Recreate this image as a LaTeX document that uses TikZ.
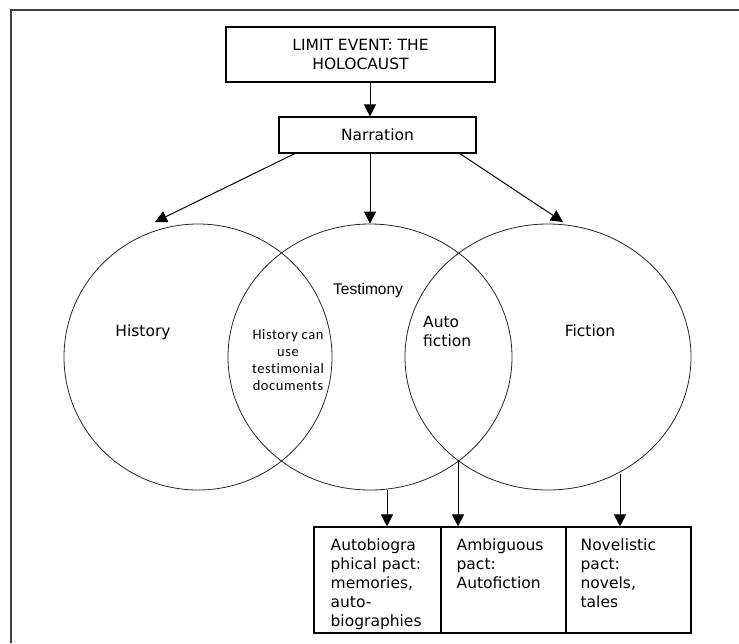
\documentclass[tikz,border=0pt]{standalone}
\usepackage{fontspec}
\setmainfont{DejaVu Sans}
\newfontfamily\arialfont{Liberation Sans}
\newfontfamily\calibrifont[LetterSpace=4,Ligatures={NoCommon}]{Carlito}
\usetikzlibrary{arrows.meta,shapes.geometric}

\begin{document}
\begin{tikzpicture}[x=1pt,y=-1pt]
  \tikzset{every node/.style={font=\fontsize{15.5}{18.5}\selectfont},
           box/.style={draw,line width=1.1pt,inner sep=0pt},
           ring/.style={draw,ellipse,line width=0.8pt,inner sep=0pt,black!85},
           pact/.style={anchor=north west,align=left,inner sep=0pt,font=\fontsize{15.5}{19}\selectfont},
           arr/.style={line width=1pt,-{Triangle[length=12pt,width=12pt]}}}
  \useasboundingbox (0,0) rectangle (739,643);
  \draw[line width=1.5pt,black!75] (11,643) -- (11,10) -- (739,10);
  % top of the chart
  \node[box,minimum width=269pt,minimum height=55pt,align=center] (event) at (360.5,54.5) {LIMIT EVENT: THE\\HOLOCAUST};
  \node[box,minimum width=197pt,minimum height=36pt] (narr) at (377.5,135) {Narration};
  % the three circles
  \node[ring,minimum width=268pt,minimum height=266pt] (hist) at (198,357) {};
  \node[ring,minimum width=284pt,minimum height=266pt] (testi) at (370,357) {};
  \node[ring,minimum width=286pt,minimum height=266pt] (fict) at (548,357) {};
  \node (histlbl) at (143,332) {History};
  \node[font=\arialfont\fontsize{15.5}{18}\selectfont] (testilbl) at (368,290) {Testimony};
  \node (fictlbl) at (590,331) {Fiction};
  \node[anchor=north west,align=left,inner sep=0pt] (autolbl) at (423,316) {Auto\\fiction};
  \node[align=center,inner sep=0pt,font=\calibrifont\fontsize{14.5}{16.8}\selectfont] (uselbl) at (288,360) {History can\\use\\testimonial\\documents};
  % pacts
  \node[box,minimum width=127pt,minimum height=106pt] (autob) at (377.5,580) {};
  \node[box,minimum width=125pt,minimum height=106pt] (ambig) at (503.5,580) {};
  \node[box,minimum width=125pt,minimum height=106pt] (novel) at (628.5,580) {};
  \node[pact] (autobtxt) at ([shift={(17,12)}]autob.north west) {Autobiogra\\phical pact:\\memories,\\auto-\\biographies};
  \node[pact] (ambigtxt) at ([shift={(16,12)}]ambig.north west) {Ambiguous\\pact:\\Autofiction};
  \node[pact] (noveltxt) at ([shift={(15,12)}]novel.north west) {Novelistic\\pact:\\novels,\\tales};
  % arrows
  \coordinate (nl) at (296,153);
  \coordinate (nr) at (459,153);
  \coordinate (hl) at (155,222);
  \coordinate (fr) at (563,222);
  \coordinate (c1) at (387,490);
  \coordinate (c2) at (458,460);
  \coordinate (c3) at (620,474);
  \draw[arr] (event.south -| testi.north) -- (narr.north -| testi.north);
  \draw[arr] (narr.south -| testi.north) -- (testi.north);
  \draw[arr] (nl) -- (hl);
  \draw[arr] (nr) -- (fr);
  \draw[arr] (c1) -- (c1 |- autob.north);
  \draw[arr] (c2) -- (c2 |- ambig.north);
  \draw[arr] (c3) -- (c3 |- novel.north);
\end{tikzpicture}
\end{document}
